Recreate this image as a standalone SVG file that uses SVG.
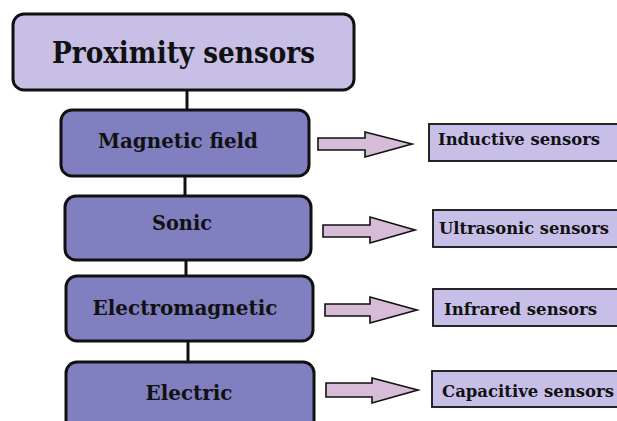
<svg xmlns="http://www.w3.org/2000/svg" width="617" height="421" viewBox="0 0 617 421">
<style>
.top{fill:#c8bfe6;stroke:#111;stroke-width:3}
.mid{fill:#8080c0;stroke:#111;stroke-width:3}
.res{fill:#c8bfe8;stroke:#111;stroke-width:1.8}
.arr{fill:#d6bcd6;stroke:#111;stroke-width:1.6;stroke-linejoin:miter}
.con{stroke:#111;stroke-width:3;fill:none}
.mt{font-size:20px;text-anchor:middle}
.rt{font-size:16px}
</style>
<rect width="617" height="421" fill="#fff"/>
<g id="connectors">
<line class="con" x1="187" y1="90" x2="187" y2="110"/>
<line class="con" x1="185" y1="176" x2="185" y2="196"/>
<line class="con" x1="186" y1="260" x2="186" y2="276"/>
<line class="con" x1="188" y1="341" x2="188" y2="362"/>
<polygon class="arr" points="318,138 365,138 365,132 412,144 365,157 365,150 318,150"/>
<polygon class="arr" points="323,225 370,225 370,217 415,230 370,243 370,237 323,237"/>
<polygon class="arr" points="325,304 370,304 370,297 417,310 370,323 370,316 325,316"/>
<polygon class="arr" points="326,383 372,383 372,378 418,390 372,403 372,397 326,397"/>
</g>
<g font-family="'DejaVu Serif', 'Liberation Serif', serif" font-stretch="condensed" font-weight="bold" fill="#111">
<g id="proximity">
<rect class="top" x="13" y="14" width="341" height="76" rx="11"/>
<text x="52" y="63" font-size="29" textLength="263" lengthAdjust="spacingAndGlyphs">Proximity sensors</text>
</g>
<g id="magnetic">
<rect class="mid" x="61" y="110" width="248" height="66" rx="11"/>
<text class="mt" x="178" y="148" textLength="160" lengthAdjust="spacingAndGlyphs">Magnetic field</text>
</g>
<g id="sonic">
<rect class="mid" x="65" y="196" width="246" height="64" rx="11"/>
<text class="mt" x="182" y="230" textLength="60" lengthAdjust="spacingAndGlyphs">Sonic</text>
</g>
<g id="electromagnetic">
<rect class="mid" x="66" y="276" width="247" height="65" rx="11"/>
<text class="mt" x="185" y="315" textLength="185" lengthAdjust="spacingAndGlyphs">Electromagnetic</text>
</g>
<g id="electric">
<rect class="mid" x="66" y="362" width="248" height="70" rx="11"/>
<text class="mt" x="189" y="400" textLength="87" lengthAdjust="spacingAndGlyphs">Electric</text>
</g>
<g id="inductive">
<rect class="res" x="429" y="124" width="200" height="37"/>
<text class="rt" x="438" y="145" textLength="162" lengthAdjust="spacingAndGlyphs">Inductive sensors</text>
</g>
<g id="ultrasonic">
<rect class="res" x="433" y="210" width="200" height="37"/>
<text class="rt" x="439" y="234" textLength="170" lengthAdjust="spacingAndGlyphs">Ultrasonic sensors</text>
</g>
<g id="infrared">
<rect class="res" x="433" y="289" width="200" height="37"/>
<text class="rt" x="444" y="315" textLength="153" lengthAdjust="spacingAndGlyphs">Infrared sensors</text>
</g>
<g id="capacitive">
<rect class="res" x="432" y="371" width="200" height="36"/>
<text class="rt" x="442" y="397" textLength="172" lengthAdjust="spacingAndGlyphs">Capacitive sensors</text>
</g>
</g>
</svg>
